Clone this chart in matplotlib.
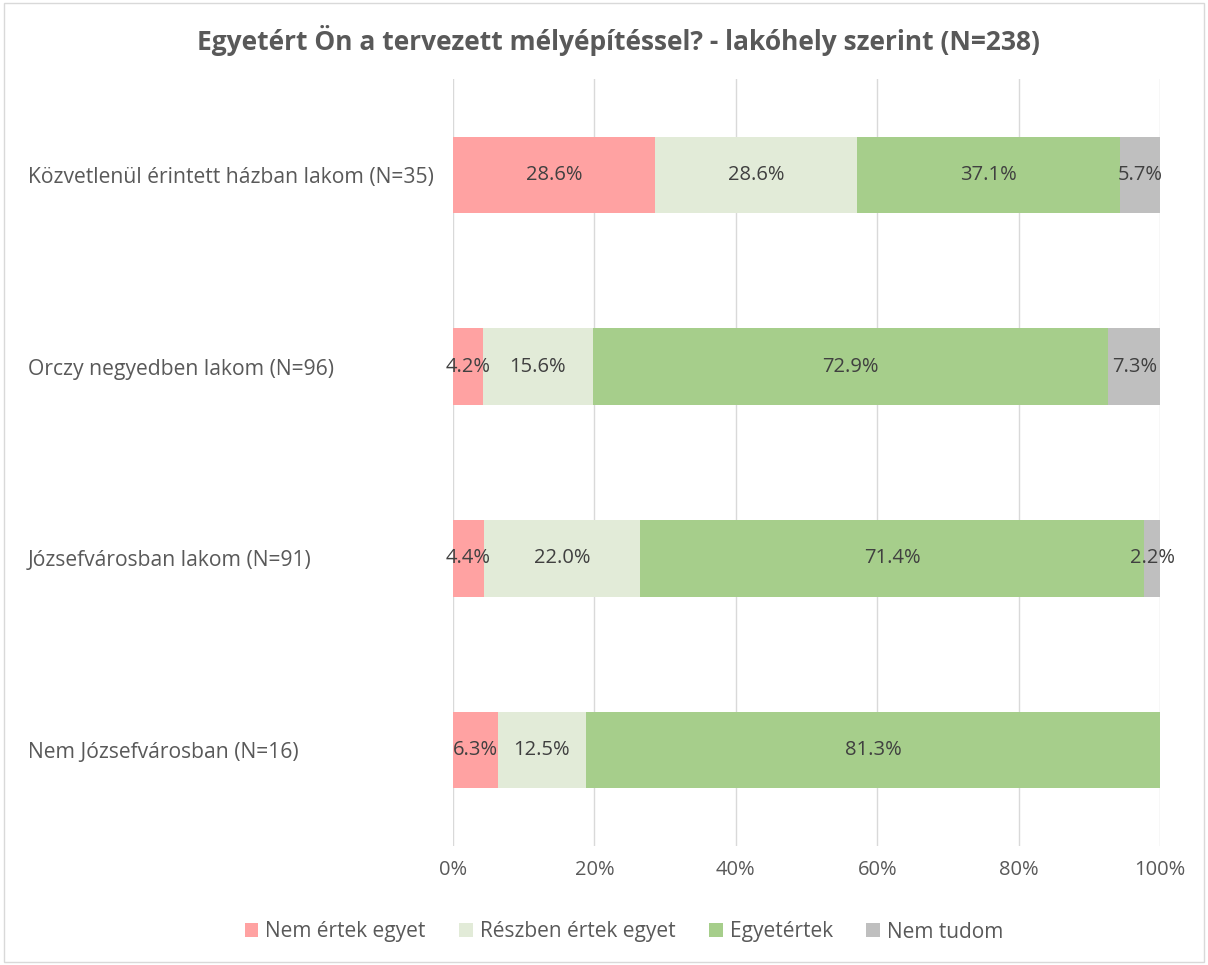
import matplotlib
matplotlib.use("Agg")
import matplotlib.pyplot as plt
from matplotlib.patches import Rectangle
import numpy as np

categories = ["Közvetlenül érintett házban lakom (N=35)",
              "Orczy negyedben lakom (N=96)",
              "Józsefvárosban lakom (N=91)",
              "Nem Józsefvárosban (N=16)"]
series_names = ["Nem értek egyet", "Részben értek egyet", "Egyetértek", "Nem tudom"]
nem_ertek = [28.6, 4.2, 4.4, 6.3]
reszben = [28.6, 15.6, 22.0, 12.5]
egyetertek = [37.1, 72.9, 71.4, 81.3]
nem_tudom = [5.7, 7.3, 2.2, 0.0]
xticks = [0, 20, 40, 60, 80, 100]
xticklabels = ["0%", "20%", "40%", "60%", "80%", "100%"]
title = "Egyetért Ön a tervezett mélyépítéssel? - lakóhely szerint (N=238)"

colors = ["#FFA2A2", "#E2EBD8", "#A6CE8B", "#BFBFBF"]
font = "Open Sans"
fs = 14.5

fig = plt.figure(figsize=(12.08, 9.65), dpi=100)
fig.patches.append(Rectangle((0.003, 0.003), 0.994, 0.994, transform=fig.transFigure,
                             fill=False, edgecolor="#D9D9D9", linewidth=1))
ax = fig.add_axes([453/1208, 1-846/965, (1160-453)/1208, (846-79)/965])

y = np.arange(len(categories))
left = np.zeros(len(categories))
for name, vals, c in zip(series_names, [nem_ertek, reszben, egyetertek, nem_tudom], colors):
    vals = np.array(vals)
    ax.barh(y, vals, left=left, height=0.4, color=c, label=name, zorder=3)
    for v, l, yi in zip(vals, left, y):
        if v > 0:
            ax.text(l + v/2, yi, f"{v:.1f}%", ha="center", va="center",
                    fontsize=fs, color="#404040", family=font, zorder=4)
    left = left + vals

ax.set_xlim(0, 100)
ax.set_ylim(3.5, -0.5)
ax.set_xticks(xticks)
ax.set_xticklabels(xticklabels, family=font, fontsize=fs, color="#595959")
ax.set_yticks(y)
ax.set_yticklabels(categories, family=font, fontsize=15.2, color="#595959")
ax.tick_params(axis="both", length=0)
ax.tick_params(axis="x", pad=10)
ax.grid(axis="x", color="#D9D9D9", linewidth=1, zorder=0)
for s in ax.spines.values():
    s.set_visible(False)
for lab in ax.get_yticklabels():
    lab.set_horizontalalignment("left")
    lab.set_x(-(453-33)/(1160-453))

fig.text(618/1208, 1-40/965, title, ha="center", va="center", fontsize=19,
         fontweight="bold", color="#595959", family=font)

leg = fig.legend(loc="center", bbox_to_anchor=(624/1208, 1-932/965), ncol=4, frameon=False,
                 prop={"family": font, "size": 15}, handlelength=0.65, handleheight=0.65,
                 handletextpad=0.35, columnspacing=1.6)
for t in leg.get_texts():
    t.set_color("#595959")

fig.savefig("out.png", dpi=100)
